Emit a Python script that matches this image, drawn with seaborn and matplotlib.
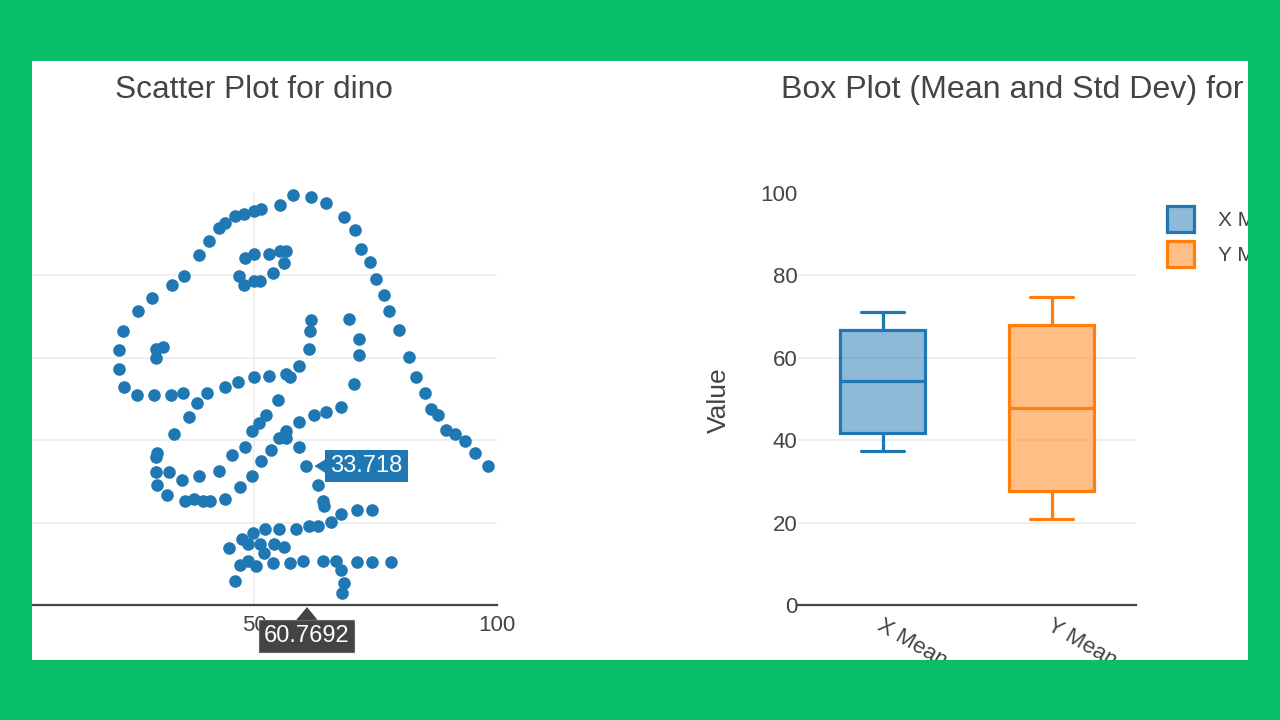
import numpy as np
import pandas as pd
import seaborn as sns
import matplotlib.pyplot as plt
from matplotlib.patches import Patch, Rectangle
from matplotlib.colors import to_rgba
from matplotlib.transforms import offset_copy, ScaledTranslation

######################################################
# Data #

# datasaurus "dino" points
dino_x = [55.3846, 51.5385, 46.1538, 42.8205, 40.7692, 38.7179, 35.6410, 33.0769, 28.9744, 26.1538,
          23.0769, 22.3077, 22.3077, 23.3333, 25.8974, 29.4872, 32.8205, 35.3846, 40.2564, 44.1026,
          46.6667, 50.0000, 53.0769, 56.6667, 59.2308, 61.2821, 61.5385, 61.7949, 57.4359, 54.8718,
          52.5641, 48.2051, 49.4872, 51.0256, 45.3846, 42.8205, 38.7179, 35.1282, 32.5641, 30.0000,
          33.5897, 36.6667, 38.2051, 29.7436, 29.7436, 30.0000, 32.0513, 35.8974, 41.0256, 44.1026,
          47.1795, 49.4872, 51.5385, 53.5897, 55.1282, 56.6667, 59.2308, 62.3077, 64.8718, 67.9487,
          70.5128, 71.5385, 71.5385, 69.4872, 46.9231, 48.2051, 50.0000, 53.0769, 55.3846, 56.6667,
          56.1538, 53.8462, 51.2821, 50.0000, 47.9487, 29.7436, 29.7436, 31.2821, 57.9487, 61.7949,
          64.8718, 68.4615, 70.7692, 72.0513, 73.8462, 75.1282, 76.6667, 77.6923, 79.7436, 81.7949,
          83.3333, 85.1282, 86.4103, 87.9487, 89.4872, 93.3333, 95.3846, 98.2051, 56.6667, 59.2308,
          60.7692, 63.0769, 64.1026, 64.3590, 74.3590, 71.2821, 67.9487, 65.8974, 63.0769, 61.2821,
          58.7179, 55.1282, 52.3077, 49.7436, 47.4359, 44.8718, 48.7179, 51.2821, 54.1026, 56.1538,
          52.0513, 48.7179, 47.1795, 46.1538, 50.5128, 53.8462, 57.4359, 60.0000, 64.1026, 66.9231,
          67.9487, 68.4615, 68.2051, 71.2821, 74.3590, 78.2051, 50.0000, 47.9487, 44.1026, 91.2821,
          37.6923, 39.4872]
dino_y = [97.1795, 96.0256, 94.4872, 91.4103, 88.3333, 84.8718, 79.8718, 77.5641, 74.4872, 71.4103,
          66.4103, 61.7949, 57.1795, 52.9487, 51.0256, 51.0256, 51.0256, 51.4103, 51.4103, 52.9487,
          54.1026, 55.2564, 55.6410, 56.0256, 57.9487, 62.1795, 66.4103, 69.1026, 55.2564, 49.8718,
          46.0256, 38.3333, 42.1795, 44.1026, 36.4103, 32.5641, 31.4103, 30.2564, 32.1795, 36.7949,
          41.4103, 45.6410, 49.1026, 36.0256, 32.1795, 29.1026, 26.7949, 25.2564, 25.2564, 25.6410,
          28.7180, 31.4103, 34.8718, 37.5641, 40.6410, 42.1795, 44.4872, 46.0256, 46.7949, 47.9487,
          53.7180, 60.6410, 64.4872, 69.4872, 79.8718, 84.1026, 85.2564, 85.2564, 86.0256, 86.0256,
          82.9487, 80.6410, 78.7180, 78.7180, 77.5641, 59.8718, 62.1795, 62.5641, 99.4872, 99.1026,
          97.5641, 94.1026, 91.0256, 86.4103, 83.3333, 79.1026, 75.2564, 71.4103, 66.7949, 60.2564,
          55.2564, 51.4103, 47.5641, 46.0256, 42.5641, 39.8718, 36.7949, 33.7180, 40.6410, 38.3333,
          33.7180, 29.1026, 25.2564, 24.1026, 22.9487, 22.9487, 22.1795, 20.2564, 19.1026, 19.1026,
          18.3333, 18.3333, 18.3333, 17.5641, 16.0256, 13.7179, 14.8718, 14.8718, 14.8718, 14.1026,
          12.5641, 10.6410, 9.6154, 5.8974, 9.3590, 10.2564, 10.2564, 10.6410, 10.6410, 10.6410,
          8.5897, 5.2564, 2.9487, 10.5128, 10.5128, 10.5128, 95.5128, 95.0000, 92.6923, 41.5385,
          25.6410, 25.2564]

# hovered point (tooltip values)
hover_x = 60.7692
hover_y = 33.718

# box plot: whisker low, q1, median, q3, whisker high
box_names = ['X Mean', 'Y Mean']
x_box = [37.5, 41.7, 54.3, 66.8, 71.0]
y_box = [20.9, 27.7, 47.8, 68.0, 74.8]

y_ticks = [0, 20, 40, 60, 80, 100]
x_ticks = [0, 50, 100]

######################################################
# Figure #

TXT = '#444444'
GRID = '#EBEBEB'
BLUE = '#1f77b4'
ORANGE = '#ff7f0e'
GREEN = '#08BE69'

sns.set_theme(style='white')
plt.rcParams['font.family'] = ['Liberation Sans', 'DejaVu Sans']

W, H = 1280, 720
fig = plt.figure(figsize=(W / 100, H / 100), dpi=100)
fig.patch.set_facecolor('white')


def px_rect(l, t, r, b):
    return [l / W, 1 - b / H, (r - l) / W, (b - t) / H]


ax1 = fig.add_axes(px_rect(11, 193, 497, 605))
ax2 = fig.add_axes(px_rect(798, 193, 1136, 605))

# scatter
df_dino = pd.DataFrame({'x': dino_x, 'y': dino_y})
sns.scatterplot(data=df_dino, x='x', y='y', ax=ax1, color=BLUE, s=82,
                linewidth=0, alpha=1, zorder=3, clip_on=False)
ax1.set_xlim(0, 100)
ax1.set_xticks(x_ticks)
ax1.set_xticklabels([str(t) if t > 0 else '' for t in x_ticks])  # 0 sits off the visible panel
for t in x_ticks:
    if 0 < t < 100:
        ax1.axvline(t, color=GRID, lw=1.1, zorder=0)

# box plot
df_box = pd.DataFrame({'stat': np.repeat(box_names, len(x_box)),
                       'value': x_box + y_box})
sns.boxplot(data=df_box, x='stat', y='value', hue='stat', palette=[BLUE, ORANGE],
            width=0.5, linewidth=2.3, saturation=1, whis=1.5, ax=ax2, legend=False)
for cont, col in zip(ax2.containers, [BLUE, ORANGE]):
    for b in cont.boxes:
        b.set_facecolor(to_rgba(col, 0.5))
        b.set_edgecolor(col)
        b.set_linewidth(2.3)
    for ln in list(cont.whiskers) + list(cont.caps) + list(cont.medians):
        ln.set_color(col)
        ln.set_linewidth(2.3)

for ax in (ax1, ax2):
    ax.set_ylim(0, 100)
    ax.set_yticks(y_ticks)
    ax.set_yticklabels([str(t) for t in y_ticks])
    ax.set_xlabel('')
    ax.set_ylabel('')
    ax.set_facecolor('white')
    for side in ['top', 'right', 'left']:
        ax.spines[side].set_visible(False)
    ax.spines['bottom'].set_color(TXT)
    ax.spines['bottom'].set_linewidth(1.6)
    ax.spines['bottom'].set_zorder(4)
    ax.tick_params(length=0, labelsize=16, labelcolor=TXT)
    ax.tick_params(axis='x', pad=7)
    ax.tick_params(axis='y', pad=0.5)
    for t in y_ticks:
        if 0 < t < 100:
            ax.axhline(t, color=GRID, lw=1.1, zorder=0)

# left y labels fall outside the visible panel
ax1.tick_params(axis='y', labelleft=False)

# rotated category labels
for lbl in ax2.get_xticklabels():
    lbl.set_rotation(-30)
    lbl.set_ha('left')
    lbl.set_va('top')
    lbl.set_rotation_mode('anchor')
    lbl.set_transform(lbl.get_transform() + ScaledTranslation(0.02, 0.0, fig.dpi_scale_trans))

# titles and axis label
fig.text(254 / W, 1 - 90 / H, 'Scatter Plot for dino', ha='center', va='center',
         fontsize=22.8, color=TXT)
fig.text(781 / W, 1 - 90 / H, 'Box Plot (Mean and Std Dev) for dino', ha='left', va='center',
         fontsize=23.1, color=TXT)
fig.text(719 / W, 1 - 400 / H, 'Value', rotation=90, ha='center', va='center',
         fontsize=19, color=TXT)

# legend
handles = [Patch(facecolor=to_rgba(c, 0.5), edgecolor=c, linewidth=2.3) for c in [BLUE, ORANGE]]
fig.legend(handles, box_names, loc='upper left', bbox_to_anchor=(1167 / W, 1 - 206 / H),
           frameon=False, fontsize=15, labelcolor=TXT, handlelength=1.3, handleheight=1.54,
           handletextpad=1.15, labelspacing=0.44, borderpad=0, borderaxespad=0)

# hover labels
ax1.annotate(f'{hover_y:g}', xy=(hover_x, hover_y), xytext=(60, 0), textcoords='offset pixels',
             ha='center', va='center', fontsize=17, color='white', zorder=10,
             bbox=dict(boxstyle='square,pad=0.22', fc=BLUE, ec='none'))
ax1.plot(hover_x, hover_y, marker=[(-0.8, 0), (0.8, 1), (0.8, -1)], ms=11.5, color=BLUE,
         transform=offset_copy(ax1.transData, fig=fig, x=14.5, y=0, units='dots'),
         clip_on=False, zorder=10)
ax1.annotate(f'{hover_x:g}', xy=(hover_x, 0), xytext=(0, -31), textcoords='offset pixels',
             ha='center', va='center', fontsize=17, color='white', zorder=10, annotation_clip=False,
             bbox=dict(boxstyle='square,pad=0.2', fc=TXT, ec='#666666', lw=0.8))
ax1.plot(hover_x, 0, marker=[(0, 0.6), (1, -0.6), (-1, -0.6)], ms=14, color=TXT,
         transform=offset_copy(ax1.transData, fig=fig, x=0, y=-8, units='dots'),
         clip_on=False, zorder=10)

# green frame round the white panel
for l, t, r, b in [(0, 0, W, 61), (0, 660, W, H), (0, 0, 32, H), (1248, 0, W, H)]:
    fig.add_artist(Rectangle((l / W, 1 - b / H), (r - l) / W, (b - t) / H,
                             transform=fig.transFigure, fc=GREEN, ec='none', zorder=1000))

fig.savefig('out.png', dpi=100)
